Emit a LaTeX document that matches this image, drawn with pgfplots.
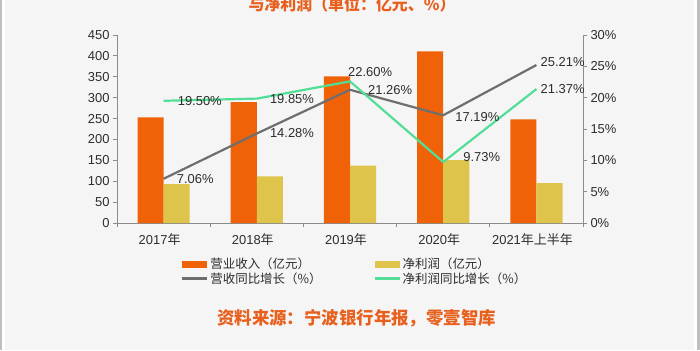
\documentclass[border=0pt]{standalone}
\usepackage{pgfplots}
\pgfplotsset{compat=1.18}
\usepackage{fontspec}
\setmainfont{Liberation Sans}
\newfontfamily\cjk{Noto Sans CJK SC}
\definecolor{bgc}{RGB}{245,245,245}
\definecolor{edge}{RGB}{190,190,190}
\definecolor{rev}{RGB}{240,98,8}
\definecolor{np}{RGB}{222,196,74}
\definecolor{gline}{RGB}{110,110,110}
\definecolor{grn}{RGB}{82,222,150}
\definecolor{ttl}{RGB}{232,96,30}
\definecolor{axc}{RGB}{140,140,140}
\definecolor{txt}{RGB}{45,45,45}
\pgfplotsset{
  patchleg/.style={legend image code/.code={\fill[##1] (0bp,-3.5bp) rectangle (25bp,3.5bp);}},
  lineleg/.style={legend image code/.code={\draw[##1] (0bp,0bp) -- (25bp,0bp);}},
}
\begin{document}
\begin{tikzpicture}[x=1bp,y=1bp]
\useasboundingbox (0,0) rectangle (700,350);
\fill[bgc] (0,0) rectangle (700,350);
\fill[white] (2,0) rectangle (5,350);
\fill[white] (694,0) rectangle (697,350);
\fill[edge] (0,0) rectangle (2,350);
\fill[edge] (697,0) rectangle (700,350);
\node[font=\cjk\bfseries\fontsize{16}{16}\selectfont, text=ttl] at (352,346) {与净利润（单位：亿元、\%）};
\node[font=\cjk\bfseries\fontsize{17.5}{18}\selectfont, text=ttl, anchor=west, inner sep=0] at (217,32) {资料来源：宁波银行年报，零壹智库};
\begin{axis}[
  at={(117bp,127bp)}, anchor=south west,
  scale only axis, width=466bp, height=188bp,
  xmin=-0.5, xmax=4.5, ymin=0, ymax=450,
  axis x line*=bottom, axis y line*=left,
  axis line style={axc, line width=0.8pt},
  tick style={axc, line width=0.8pt},
  ytick={0,50,...,450},
  xtick={0,1,2,3,4}, xticklabels={2017{\cjk 年},2018{\cjk 年},2019{\cjk 年},2020{\cjk 年},2021{\cjk 年上半年}},
  major x tick style={draw=none},
  minor xtick={-0.5,0.5,1.5,2.5,3.5,4.5},
  minor tick length=4bp,
  tick align=outside, major tick length=4bp,
  tick label style={font=\fontsize{13}{13}\selectfont, text=txt},
  /pgf/number format/assume math mode=true,
  xticklabel style={yshift=-3bp, xshift=-4bp},
  legend style={at={(0.131,-0.165)}, anchor=north west, draw=none, fill=none,
    font=\cjk\fontsize{12.5}{13}\selectfont, text=txt,
    /tikz/every even column/.append style={column sep=50bp},
    row sep=-2bp},
  legend columns=2,
  legend cell align=left,
]
\addplot[ybar, bar width=0.28, bar shift=-0.14, fill=rev, draw=none, patchleg]
  coordinates {(0,253.1) (1,289.3) (2,350.8) (3,411.1) (4,247.9)};
\addlegendentry{营业收入（亿元）}
\addplot[ybar, bar width=0.28, bar shift=0.14, fill=np, draw=none, patchleg]
  coordinates {(0,93.3) (1,111.9) (2,137.1) (3,150.5) (4,95.5)};
\addlegendentry{净利润（亿元）}
\addlegendimage{gline, line width=2.2pt, lineleg}
\addlegendentry{营收同比增长（\%）}
\addlegendimage{grn, line width=2.2pt, lineleg}
\addlegendentry{净利润同比增长（\%）}
\end{axis}
\begin{axis}[
  at={(117bp,127bp)}, anchor=south west,
  scale only axis, width=466bp, height=188bp,
  xmin=-0.5, xmax=4.5, ymin=0, ymax=30,
  axis y line*=right, axis x line=none,
  axis line style={axc, line width=0.8pt},
  tick style={axc, line width=0.8pt},
  ytick={0,5,...,30},
  yticklabel={\pgfmathprintnumber{\tick}\%},
  tick align=outside, major tick length=4bp,
  tick label style={font=\fontsize{13}{13}\selectfont, text=txt},
  /pgf/number format/assume math mode=true,
  clip=false,
]
\addplot[gline, line width=2.2pt, mark=none] coordinates {(0,7.06) (1,14.28) (2,21.26) (3,17.19) (4,25.21)};
\addplot[grn, line width=2.2pt, mark=none] coordinates {(0,19.50) (1,19.85) (2,22.60) (3,9.73) (4,21.37)};
\begin{scope}[every node/.style={font=\fontsize{13}{13}\selectfont, text=txt, anchor=west, inner sep=0}]
\node[xshift=13bp] at (axis cs:0,7.06) {7.06\%};
\node[xshift=14bp] at (axis cs:0,19.50) {19.50\%};
\node[xshift=13bp] at (axis cs:1,14.28) {14.28\%};
\node[xshift=13bp] at (axis cs:1,19.85) {19.85\%};
\node[xshift=-2bp, yshift=9bp] at (axis cs:2,22.60) {22.60\%};
\node[xshift=18bp] at (axis cs:2,21.26) {21.26\%};
\node[xshift=12bp, yshift=-2bp] at (axis cs:3,17.19) {17.19\%};
\node[xshift=20bp, yshift=5bp] at (axis cs:3,9.73) {9.73\%};
\node[xshift=4bp, yshift=3bp] at (axis cs:4,25.21) {25.21\%};
\node[xshift=4bp] at (axis cs:4,21.37) {21.37\%};
\end{scope}
\end{axis}
\end{tikzpicture}
\end{document}
